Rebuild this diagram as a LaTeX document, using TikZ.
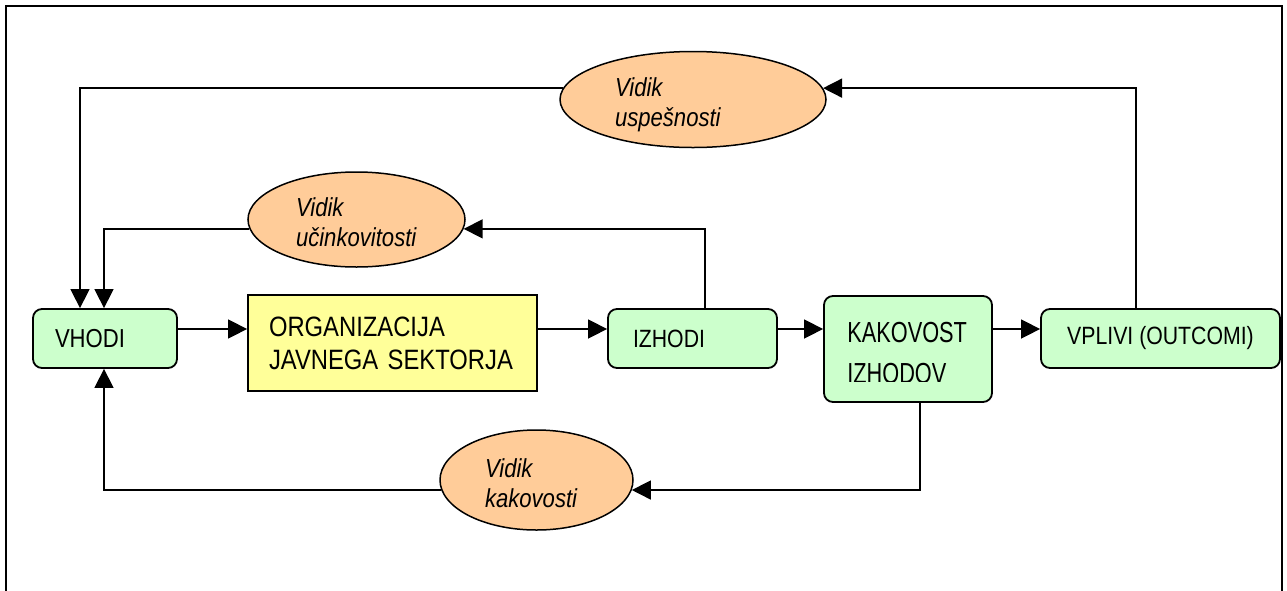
\documentclass[tikz,border=0pt]{standalone}
\usepackage{fontspec}
\setmainfont[FakeStretch=0.85]{Liberation Sans}
\newfontfamily\narrowfont[FakeStretch=0.75]{Liberation Sans}
\usetikzlibrary{arrows.meta,shapes.geometric}
\definecolor{boxgreen}{HTML}{CCFFCC}
\definecolor{boxyellow}{HTML}{FFFF99}
\definecolor{ovalorange}{HTML}{FFCC99}
\newcommand\setfs[2]{\fontsize{#1pt}{#2pt}\selectfont}

\begin{document}
\begin{tikzpicture}[x=1pt,y=-1pt,
  stage/.style={draw=black, line width=1.8pt, fill=boxgreen, rounded corners=9pt, inner ysep=0pt},
  core/.style={draw=black, line width=1.8pt, fill=boxyellow, inner ysep=0pt},
  aspect/.style={ellipse, draw=black, line width=1.5pt, fill=ovalorange, inner sep=0pt,
                 align=left, text depth=24pt, font=\itshape\setfs{26}{30}},
  link/.style={line width=1.5pt, -{Triangle[length=19pt,width=19pt]}},
]
\useasboundingbox (0,0) rectangle (1287,590);

% outer frame (open at the bottom edge of the page)
\draw[line width=2.5pt] (6,600) -- (6,6) -- (1282,6) -- (1282,600);

% process chain
\node[stage, minimum width=144pt, minimum height=59pt, text width=100pt, inner xsep=22pt,
      align=left, font=\setfs{26}{30}] (vho) at (105,338.5) {VHODI};
\node[core, minimum width=289pt, minimum height=96pt, text width=247pt, inner xsep=21pt,
      align=left, font=\setfs{28}{33}] (org) at (392.5,343) {ORGANIZACIJA\\JAVNEGA SEKTORJA};
\node[stage, minimum width=169pt, minimum height=59pt, text width=119pt, inner xsep=25pt,
      align=left, font=\setfs{25}{30}] (izh) at (692.5,338.5) {IZHODI};
\node[stage, minimum width=168pt, minimum height=106pt] (kak) at (908,349) {};
% the second line runs past the text area of the box and is cut off
\begin{scope}
  \clip ([xshift=2pt,yshift=-2pt]kak.north west) rectangle ([yshift=21pt]kak.south east);
  \node[anchor=north west, inner sep=0pt, align=left, font=\narrowfont\setfs{29}{41}] (kakt)
        at ([xshift=24pt,yshift=-27pt]kak.north west) {KAKOVOST\\IZHODOV};
\end{scope}
\node[stage, minimum width=239pt, minimum height=59pt, font=\setfs{25}{30}] (vpl)
      at (1160.5,338.5) {VPLIVI (OUTCOMI)};

% viewpoints
\node[aspect, minimum width=266pt, minimum height=96pt, text width=156pt] (usp)
      at (693,99.5) {Vidik\\uspešnosti};
\node[aspect, minimum width=217pt, minimum height=95pt, text width=121pt] (uci)
      at (356.5,219.5) {Vidik\\učinkovitosti};
\node[aspect, minimum width=193pt, minimum height=100pt, text width=103pt] (kav)
      at (536.5,480) {Vidik\\kakovosti};

% forward flow
\coordinate (row) at (0,329);
\draw[link] (vho.east |- row) -- (org.west |- row);
\draw[link] (org.east |- row) -- (izh.west |- row);
\draw[link] (izh.east |- row) -- (kak.west |- row);
\draw[link] (kak.east |- row) -- (vpl.west |- row);

% feedback loops
\draw[link] ([xshift=-24.5pt]vpl.north) |- (usp.5);
\draw[link] (usp.175) -| ([xshift=-25pt]vho.north);
\draw[link] ([xshift=12.5pt]izh.north) |- (uci.-5.7);
\draw[link] (uci.185.7) -| ([xshift=-1pt]vho.north);
\draw[link] ([xshift=12pt]kak.south) |- (kav.-6);
\draw[link] (kav.186) -| ([xshift=-1pt]vho.south);
\end{tikzpicture}
\end{document}
